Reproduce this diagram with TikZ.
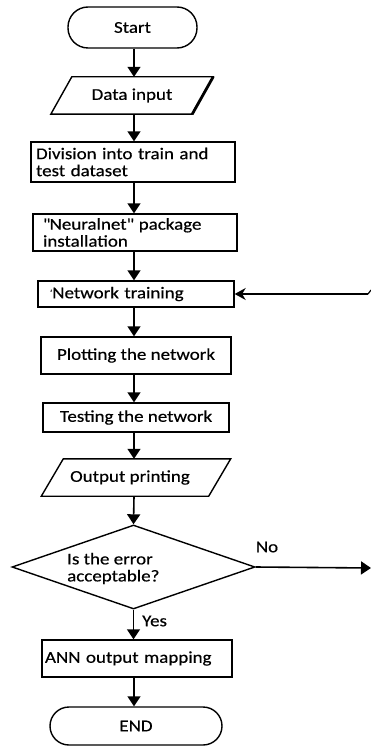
\documentclass[tikz,border=0pt]{standalone}
\usepackage{fontspec}
\setmainfont{Carlito}[FakeStretch=1.15,FakeBold=0.4]
\usetikzlibrary{shapes.geometric,arrows.meta}
\begin{document}
\begin{tikzpicture}[x=1pt,y=-1pt,
  every node/.style={font=\fontsize{16.5}{17}\selectfont},
  box/.style={draw,line width=1.4pt,inner ysep=0pt,minimum height=#1},
  term/.style={draw,line width=1.4pt,rounded corners=19pt,inner sep=0pt},
  ghost/.style={inner sep=0pt,minimum height=#1},
  para/.style={line width=1.4pt},
  arr/.style={line width=1.6pt,-{Triangle[width=13pt,length=10pt]}},
  lbl/.style={inner sep=0pt}]
\useasboundingbox (0,0) rectangle (371,746);
\fill[white] (0,0) rectangle (371,746);
\coordinate (axis) at (134,0);

% Start
\node[term,minimum width=129pt,minimum height=41pt,rounded corners=20pt] (start) at (132.5,27.5) {Start};

% Data input (parallelogram)
\node[ghost=37pt,minimum width=141pt] (din) at (132,95.5) {Data input};
\draw[para] ([xshift=10.5pt]din.north west) -- ([xshift=10.5pt]din.north east)
  -- ([xshift=-10.5pt]din.south east) -- ([xshift=-10.5pt]din.south west) -- cycle;
\draw[line width=2.8pt] ([xshift=10.5pt]din.north east) -- ([xshift=-10.5pt]din.south east);

% Division
\node[box=40pt,text width=194pt,inner xsep=5pt,align=left] (div) at (133,162)
  {Division into train and\\test dataset};

% Neuralnet
\node[box=37pt,text width=184pt,inner xsep=10pt,align=left] (pkg) at (135,232.5)
  {\textquotedbl Neuralnet\textquotedbl{} package\\installation};

% Network training
\node[box=26pt,text width=172pt,inner xsep=12pt,align=left] (train) at (136,294)
  {\raisebox{3pt}{\fontsize{8}{8}\selectfont '}Network training};

% Plotting
\node[box=37pt,minimum width=190pt,inner xsep=0pt] (plot) at (136,355.5) {Plotting the network};

% Testing
\node[box=29pt,minimum width=186pt,inner xsep=0pt] (test) at (136,417.5) {Testing the network};

% Output printing (parallelogram)
\node[ghost=37pt,minimum width=167pt] (outp) at (136,477.5) {\hspace*{-12pt}Output printing};
\draw[para] ([xshift=11pt]outp.north west) -- ([xshift=11pt]outp.north east)
  -- ([xshift=-11pt]outp.south east) -- ([xshift=-11pt]outp.south west) -- cycle;

% Decision
\node[diamond,draw,line width=1.4pt,inner sep=0pt,minimum width=243pt,minimum height=84pt] (dec) at (133.5,567) {};
\node[lbl,anchor=west,align=left] (dectext) at (67,568.5) {Is the error\\acceptable?};

% ANN output mapping
\node[box=37pt,text width=184pt,inner xsep=3pt,align=left] (ann) at (137,658.5) {ANN output mapping};

% END
\node[term,minimum width=172pt,minimum height=38pt] (end) at (136,726) {END};

% labels
\node[lbl] (no) at (267,547) {No};
\node[lbl,anchor=west] (yes) at (142,621) {Yes};

% connectors
\draw[arr] (start.south -| axis) -- (din.north -| axis);
\draw[arr] (din.south -| axis) -- (div.north -| axis);
\draw[arr] (div.south -| axis) -- (pkg.north -| axis);
\draw[arr] (pkg.south -| axis) -- (train.north -| axis);
\draw[arr] (train.south -| axis) -- (plot.north -| axis);
\draw[arr] (plot.south -| axis) -- (test.north -| axis);
\draw[arr] (test.south -| axis) -- (outp.north -| axis);
\draw[arr] (outp.south -| axis) -- (dec.north);
\draw[arr] (dec.south) -- (ann.north -| dec.south);
\draw[arr] (ann.south -| axis) -- (end.north -| axis);

\coordinate (noend) at (371,568);
\draw[arr] (dec.east) -- (noend);
\coordinate (fb) at (368,294);
\draw[line width=1.4pt,-{Stealth[width=12pt,length=11pt]}] (fb) -- (train.east);
\draw[line width=1.2pt] (fb) -- ++(3,-4);
\end{tikzpicture}
\end{document}
